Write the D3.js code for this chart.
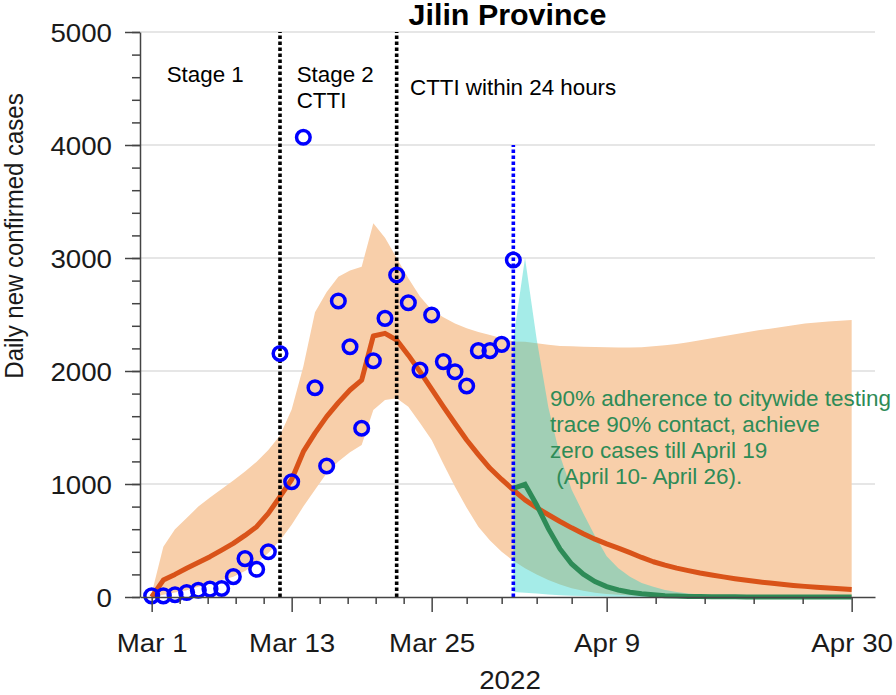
<!DOCTYPE html>
<html>
<head>
<meta charset="utf-8">
<script src="https://cdn.jsdelivr.net/npm/d3@7"></script>
<style>
  body { margin: 0; background: #fff; }
  svg { display: block; font-family: "Liberation Sans", Arial, Helvetica, sans-serif; }
  .axis path, .axis line { stroke: #444; stroke-width: 1.5; }
  .axis text { fill: #1a1a1a; font-size: 26.4px; }
</style>
</head>
<body>
<div id="chart"></div>
<script>
// reported daily new cases, one per day from Mar 1 to Apr 1 2022
var observed = [10, 10, 20, 40, 60, 70, 75, 180, 340, 245, 400, 2155, 1020, 4068, 1852, 1159,
                2620, 2215, 1493, 2091, 2466, 2850, 2604, 2009, 2496, 2083, 1994, 1867, 2180, 2180, 2236, 2982];

// model fit, Mar 1 .. Apr 30 (61 days)
var fitMean = [0, 150, 200, 254, 305, 357, 415, 475, 545, 622, 740,
               888, 1040, 1286, 1450, 1596, 1720, 1832, 1920, 2310, 2333,
               2274, 2140, 1994, 1840, 1684, 1535, 1389, 1260, 1139, 1040,
               947, 860, 790, 728, 668, 612, 560, 512, 470, 432,
               392, 350, 312, 282, 256, 233, 212, 194, 178, 162,
               148, 135, 123, 112, 102, 94, 86, 79, 72, 66];
var fitUpper = [30, 445, 600, 700, 800, 880, 955, 1030, 1110, 1197, 1300,
                1430, 1660, 2040, 2520, 2700, 2835, 2890, 2923, 3307, 3180,
                3000, 2820, 2660, 2540, 2475, 2420, 2378, 2345, 2319, 2290,
                2262, 2258, 2245, 2232, 2222, 2218, 2214, 2212, 2210, 2208,
                2208, 2210, 2218, 2228, 2240, 2255, 2272, 2289, 2308, 2326,
                2344, 2360, 2375, 2390, 2405, 2420, 2430, 2438, 2445, 2451];
var fitLower = [0, 20, 40, 60, 90, 120, 150, 180, 230, 300, 390,
                500, 640, 800, 950, 1095, 1200, 1280, 1345, 1655, 1743,
                1758, 1684, 1540, 1389, 1180, 976, 790, 622, 500, 400,
                320, 255, 200, 150, 110, 78, 55, 38, 27, 19,
                13, 9, 6, 4, 3, 2, 1, 1, 1, 1,
                0, 0, 0, 0, 0, 0, 0, 0, 0, 0];

// citywide testing scenario, Apr 1 .. Apr 30
var scenarioStart = 31;
var scenarioMean = [962, 997, 815, 605, 425, 292, 202, 137, 92, 62,
                    42, 28, 19, 12, 8, 5, 4, 3, 2, 2,
                    1, 1, 1, 1, 0, 0, 0, 0, 0, 0];
var scenarioUpper = [2280, 3000, 2280, 1680, 1250, 950, 740, 540, 360, 255,
                     180, 125, 90, 62, 44, 31, 22, 16, 11, 8,
                     6, 4, 3, 2, 2, 1, 1, 1, 0, 0];
var scenarioLower = [45, 38, 30, 22, 16, 12, 9, 6, 4, 3,
                     2, 1, 1, 0, 0, 0, 0, 0, 0, 0,
                     0, 0, 0, 0, 0, 0, 0, 0, 0, 0];

var stageDays = [11, 21];
var xTickDates = ["2022-03-01", "2022-03-13", "2022-03-25", "2022-04-09", "2022-04-30"];
var yTicks = [0, 1000, 2000, 3000, 4000, 5000];
var noteLines = ["90% adherence to citywide testing", "trace 90% contact, achieve",
                 "zero cases till April 19", " (April 10- April 26)."];

var W = 896, H = 695, SX = 1.05;
var t0 = new Date(Date.UTC(2022, 2, 1));
var day = function (i) { return d3.utcDay.offset(t0, i); };

var svg = d3.select("#chart").append("svg").attr("width", W).attr("height", H);

var x = d3.scaleUtc().domain([day(-1), day(62)]).range([140, 875]);
var y = d3.scaleLinear().domain([0, 5000]).range([597, 32]);

// grid
svg.append("g").selectAll("line")
    .data(yTicks.filter(function (v) { return v > 0; }))
    .enter().append("line")
    .attr("x1", x.range()[0]).attr("x2", x.range()[1])
    .attr("y1", function (d) { return y(d); }).attr("y2", function (d) { return y(d); })
    .attr("stroke", "#dedede").attr("stroke-width", 1.5);

var fitBand = fitMean.map(function (d, i) { return { i: i, lo: fitLower[i], hi: fitUpper[i] }; });
var scenBand = scenarioMean.map(function (d, i) { return { i: i + scenarioStart, lo: scenarioLower[i], hi: scenarioUpper[i] }; });

var area = d3.area()
    .x(function (d) { return x(day(d.i)); })
    .y0(function (d) { return y(d.lo); })
    .y1(function (d) { return y(d.hi); });

svg.append("path").datum(fitBand).attr("d", area).attr("fill", "#f8cfaa");
svg.append("path").datum(scenBand).attr("d", area).attr("fill", "#1fcfc5").attr("fill-opacity", 0.4);

var line = d3.line()
    .x(function (d) { return x(day(d.i)); })
    .y(function (d) { return y(d.v); });

svg.append("path")
    .datum(fitMean.map(function (v, i) { return { i: i, v: v }; }))
    .attr("d", line).attr("fill", "none")
    .attr("stroke", "#d95319").attr("stroke-width", 5).attr("stroke-linejoin", "round");

svg.append("path")
    .datum(scenarioMean.map(function (v, i) { return { i: i + scenarioStart, v: v }; }))
    .attr("d", line).attr("fill", "none")
    .attr("stroke", "#2e8b57").attr("stroke-width", 5).attr("stroke-linejoin", "miter");

// stage separators
svg.append("g").selectAll("line")
    .data(stageDays)
    .enter().append("line")
    .attr("x1", function (d) { return x(day(d)); }).attr("x2", function (d) { return x(day(d)); })
    .attr("y1", y(0)).attr("y2", y(5000))
    .attr("stroke", "#000").attr("stroke-width", 3.6).attr("stroke-dasharray", "3.4,2.6");

svg.append("line")
    .attr("x1", x(day(scenarioStart))).attr("x2", x(day(scenarioStart)))
    .attr("y1", y(0)).attr("y2", y(4000))
    .attr("stroke", "#0000ff").attr("stroke-width", 3.6).attr("stroke-dasharray", "3.4,2.6");

// observed points
svg.append("g").selectAll("circle")
    .data(observed)
    .enter().append("circle")
    .attr("cx", function (d, i) { return x(day(i)); })
    .attr("cy", function (d) { return y(d); })
    .attr("r", 6.8)
    .attr("fill", "none").attr("stroke", "#0000ff").attr("stroke-width", 3.5);

// axes
var yAxisMinor = d3.axisLeft(y).tickValues(d3.range(0, 5001, 200)).tickSize(8).tickFormat("");
var yAxis = d3.axisLeft(y).tickValues(yTicks).tickSize(15).tickSizeOuter(0).tickFormat(d3.format("d"));

var gy = svg.append("g").attr("class", "axis").attr("transform", "translate(140,0)");
gy.append("g").call(yAxisMinor).select(".domain").remove();
gy.append("g").call(yAxis);
gy.selectAll("text").attr("x", null).attr("dy", "0.36em")
    .attr("transform", "translate(-28,0) scale(" + SX + ",1)");
gy.selectAll(".domain").attr("fill", "none");

var majorDates = xTickDates.map(function (s) { return d3.utcParse("%Y-%m-%d")(s); });
var minorDates = [];
for (var k = 0; k < majorDates.length - 1; k++) {
    var a = +majorDates[k], b = +majorDates[k + 1];
    for (var j = 1; j < 5; j++) minorDates.push(new Date(a + (b - a) * j / 5));
}
var xAxisMinor = d3.axisBottom(x).tickValues(minorDates).tickSize(7).tickFormat("");
var xAxis = d3.axisBottom(x).tickValues(majorDates).tickSize(15).tickSizeOuter(0)
    .tickFormat(d3.utcFormat("%b %-d"));

var gx = svg.append("g").attr("class", "axis").attr("transform", "translate(0,597)");
gx.append("g").call(xAxisMinor).select(".domain").remove();
gx.append("g").call(xAxis);
gx.selectAll("text").attr("y", null).attr("dy", null)
    .attr("transform", "translate(0,55) scale(" + SX + ",1)");
gx.selectAll(".domain").attr("fill", "none");

function label(px, py, txt, size, opts) {
    opts = opts || {};
    return svg.append("text")
        .attr("transform", "translate(" + px + "," + py + ") scale(" + SX + ",1)" + (opts.rot ? " rotate(" + opts.rot + ")" : ""))
        .attr("text-anchor", opts.anchor || "start")
        .attr("font-size", size + "px")
        .attr("font-weight", opts.bold ? "bold" : null)
        .attr("fill", opts.color || "#000")
        .style("white-space", "pre")
        .text(txt);
}

label(507.5, 25, "Jilin Province", 29, { anchor: "middle", bold: true });
label(510, 689, "2022", 26.4, { anchor: "middle", color: "#1a1a1a" });
label(23, 236, "Daily new confirmed cases", 24, { anchor: "middle", rot: -90, color: "#1a1a1a" });

label(166.7, 82, "Stage 1", 21.3);
label(296.7, 82, "Stage 2", 21.3);
label(296.7, 108, "CTTI", 21.3);
label(410, 95, "CTTI within 24 hours", 21.3);

noteLines.forEach(function (s, i) {
    label(550, 406 + i * 26, s, 21.4, { color: "#2e8b57" });
});
</script>
</body>
</html>
